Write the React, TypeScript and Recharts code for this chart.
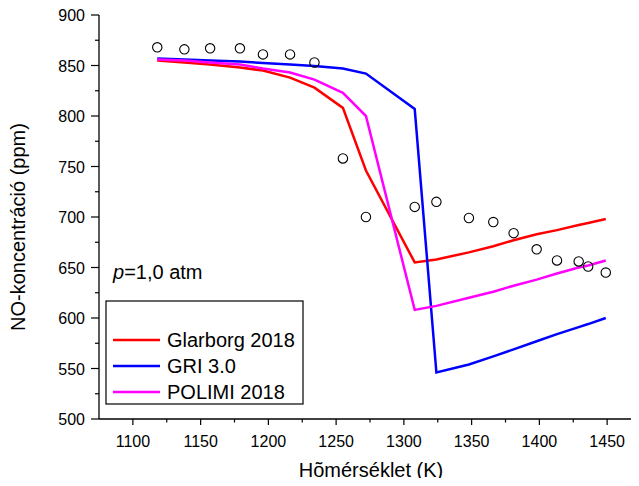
import { ComposedChart, Line, Scatter, XAxis, YAxis, Customized } from "recharts";

// temperatures (K) shared by measurements and model runs
const temps = [1118, 1138, 1157, 1179, 1196, 1216, 1234, 1255, 1272, 1308, 1324, 1348, 1366, 1381, 1398, 1413, 1429, 1436, 1449];
const measured = [868, 866, 867, 867, 861, 861, 853, 758, 700, 710, 715, 699, 695, 684, 668, 657, 656, 651, 645];
const glarborg = [855, 853, 851, 848, 845, 838, 828, 808, 746, 655, 658, 665, 671, 677, 683, 687, 692, 694, 698];
const gri = [857, 856, 855, 854, 852.5, 851, 849.5, 847, 842, 807, 546, 554, 562, 569, 577, 584, 591, 594, 600];
const polimi = [856, 855, 853, 851, 847, 843, 836, 823, 800, 608, 612, 620, 626, 632, 638, 644, 650, 652, 657];

const xTicks = [1100, 1125, 1150, 1175, 1200, 1225, 1250, 1275, 1300, 1325, 1350, 1375, 1400, 1425, 1450, 1475];
const yTicks = [500, 525, 550, 575, 600, 625, 650, 675, 700, 725, 750, 775, 800, 825, 850, 875, 900];

const seriesInfo = [
  { key: "glarborg", name: "Glarborg 2018", color: "#ff0000" },
  { key: "gri", name: "GRI 3.0", color: "#0000ff" },
  { key: "polimi", name: "POLIMI 2018", color: "#ff00ff" },
];

const rows = temps.map((t, i) => ({
  T: t,
  exp: measured[i],
  glarborg: glarborg[i],
  gri: gri[i],
  polimi: polimi[i],
}));

const FONT = "'Liberation Sans', Arial, sans-serif";

const BottomTick = (props: any) => {
  const { x, y, payload } = props;
  const major = payload.value % 50 === 0;
  return (
    <g>
      <line x1={x} x2={x} y1={y} y2={y + (major ? 6 : 3.5)} stroke="#000" strokeWidth={1.2} />
      {major && (
        <text x={x} y={y + 28} textAnchor="middle" fontSize={16} fill="#000" fontFamily={FONT}>
          {payload.value}
        </text>
      )}
    </g>
  );
};

const TopTick = (props: any) => {
  const { x, y, payload } = props;
  const major = payload.value % 50 === 0;
  return <line x1={x} x2={x} y1={y} y2={y + (major ? 4 : 3)} stroke="#000" strokeWidth={1.2} />;
};

const LeftTick = (props: any) => {
  const { x, y, payload } = props;
  const major = payload.value % 50 === 0;
  return (
    <g>
      <line x1={x - (major ? 8 : 4)} x2={x} y1={y} y2={y} stroke="#000" strokeWidth={1.2} />
      {major && (
        <text x={x - 14} y={y + 6} textAnchor="end" fontSize={16} fill="#000" fontFamily={FONT}>
          {payload.value}
        </text>
      )}
    </g>
  );
};

const Overlay = () => (
  <g fontFamily={FONT} fill="#000">
    <text x={371} y={477} textAnchor="middle" fontSize={20}>
      Hõmérséklet (K)
    </text>
    <text x={25} y={227} textAnchor="middle" fontSize={20} transform="rotate(-90 25 227)">
      NO-koncentráció (ppm)
    </text>
    <text x={113} y={279} fontSize={20}>
      <tspan fontStyle="italic">p</tspan>=1,0 atm
    </text>
    <rect x={106} y={301} width={197} height={103} fill="#fff" stroke="#000" strokeWidth={1.2} />
    {seriesInfo.map((s, i) => (
      <g key={s.key}>
        <line x1={113} x2={160} y1={340 + i * 26} y2={340 + i * 26} stroke={s.color} strokeWidth={2.5} />
        <text x={167} y={347 + i * 26} fontSize={20}>
          {s.name}
        </text>
      </g>
    ))}
  </g>
);

export default function App() {
  return (
    <div style={{ margin: -8, width: 639, height: 486, overflow: "hidden", background: "#fff" }}>
      <ComposedChart
        width={650}
        height={486}
        data={rows}
        margin={{ top: 15, right: 9, bottom: 0, left: 0 }}
        style={{ fontFamily: FONT }}
      >
        <XAxis
          xAxisId="b"
          type="number"
          dataKey="T"
          domain={[1075, 1475]}
          ticks={xTicks}
          interval={0}
          tick={<BottomTick />}
          tickLine={false}
          tickSize={0}
          tickMargin={0}
          height={67}
          axisLine={{ stroke: "#000", strokeWidth: 1.3 }}
        />
        <XAxis
          xAxisId="t"
          orientation="top"
          type="number"
          dataKey="T"
          domain={[1075, 1475]}
          ticks={xTicks}
          interval={0}
          tick={<TopTick />}
          tickLine={false}
          tickSize={0}
          tickMargin={0}
          height={0}
          axisLine={{ stroke: "#000", strokeWidth: 1.3 }}
        />
        <YAxis
          type="number"
          domain={[500, 900]}
          ticks={yTicks}
          interval={0}
          tick={<LeftTick />}
          tickLine={false}
          tickSize={0}
          tickMargin={0}
          width={99}
          axisLine={{ stroke: "#000", strokeWidth: 1.3 }}
        />
        {seriesInfo.map((s) => (
          <Line
            key={s.key}
            xAxisId="b"
            type="linear"
            dataKey={s.key}
            stroke={s.color}
            strokeWidth={2.5}
            dot={false}
            activeDot={false}
            isAnimationActive={false}
          />
        ))}
        <Scatter
          xAxisId="b"
          dataKey="exp"
          isAnimationActive={false}
          shape={(p: any) => <circle cx={p.cx} cy={p.cy} r={4.7} fill="none" stroke="#000" strokeWidth={1.1} />}
        />
        <Customized component={Overlay} />
      </ComposedChart>
    </div>
  );
}
